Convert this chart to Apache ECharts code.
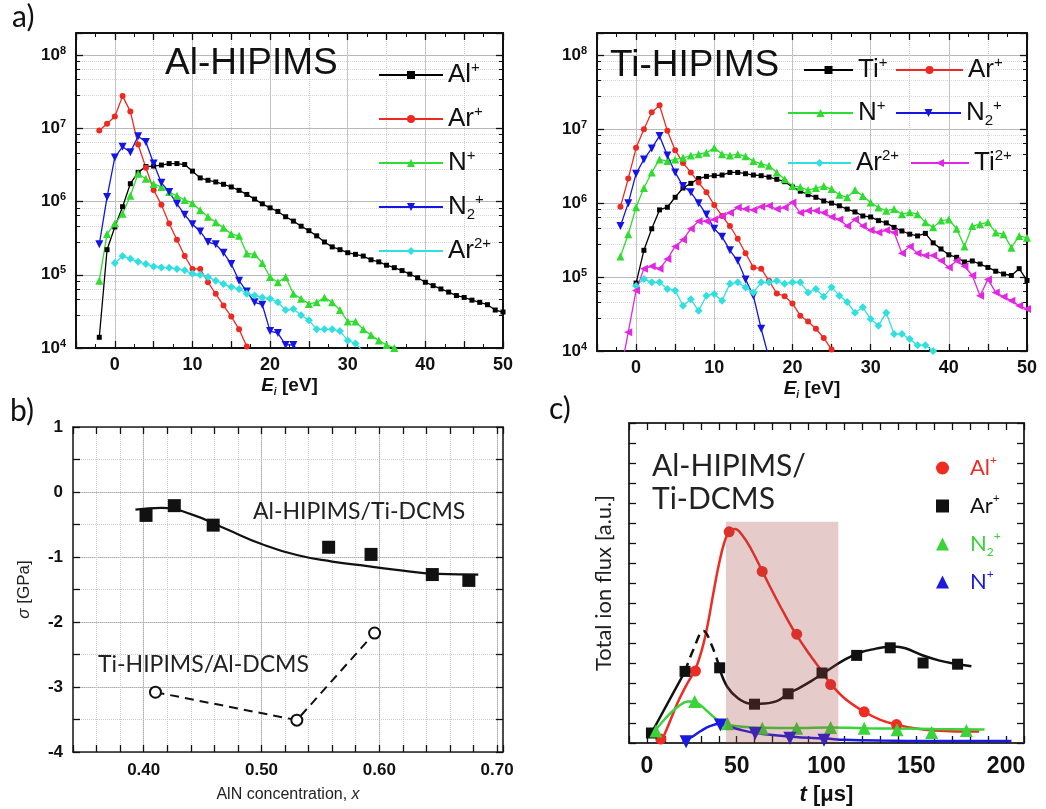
<!DOCTYPE html>
<html><head><meta charset="utf-8">
<script src="https://cdn.jsdelivr.net/npm/echarts@6/dist/echarts.min.js"></script>
<style>html,body{margin:0;padding:0;background:#fff}#c{width:1046px;height:809px}</style>
</head><body><div id="c"></div><script>
// ---------- DATA ----------
const energyL = [-2,-1,0,1,2,3,4,5,6,7,8,9,10,11,12,13,14,15,16,17,18,19,20,21,22,23,24,25,26,27,28,29,30,31,32,33,34,35,36,37,38,39,40,41,42,43,44,45,46,47,48,49,50];
const alPlusL = [1.4e4,2.2e5,4.5e5,8.5e5,1.75e6,2.5e6,3.0e6,3.05e6,3.15e6,3.3e6,3.3e6,3.2e6,2.6e6,2.1e6,1.95e6,1.85e6,1.72e6,1.58e6,1.42e6,1.25e6,1.08e6,9.3e5,8.2e5,7.3e5,6.2e5,5.4e5,4.6e5,4.0e5,3.4e5,2.8e5,2.4e5,2.2e5,2.0e5,1.9e5,1.8e5,1.6e5,1.5e5,1.35e5,1.25e5,1.14e5,1.02e5,9.1e4,7.9e4,7.1e4,6.4e4,5.8e4,5.2e4,4.9e4,4.5e4,4.2e4,3.9e4,3.3e4,3.1e4];
const arPlusL = [9.3e6,1.15e7,1.45e7,2.75e7,1.7e7,6.0e6,2.9e6,1.44e6,9e5,5e5,3e5,1.8e5,1.2e5,1.2e5,7.9e4,5.5e4,3.8e4,2.7e4,1.8e4,1.05e4,7e3];
const nPlusL = [8.3e4,3.6e5,5e5,6.8e5,1.2e6,2.4e6,2.05e6,1.74e6,1.58e6,1.35e6,1.2e6,1.05e6,9.5e5,7.6e5,6.2e5,5.2e5,4.4e5,3.6e5,3.4e5,1.95e5,1.9e5,1.45e5,9.3e4,7.9e4,9.3e4,5.5e4,4.7e4,4e4,4.2e4,4.9e4,4.2e4,3.3e4,2.3e4,2.3e4,1.8e4,1.5e4,1.27e4,1.1e4,1e4,9e3];
const n2PlusL = [2.6e5,1.15e6,4e6,5.6e6,4.7e6,7.8e6,6.5e6,3.3e6,1.8e6,1.35e6,9.3e5,6.6e5,4.9e5,3.9e5,2.8e5,2.6e5,2e5,1.4e5,8.3e4,5.9e4,4.2e4,3.9e4,1.7e4,1.6e4,1.1e4,1.1e4,8e3];
const ar2PlusL = [null,null,1.45e5,1.8e5,1.65e5,1.5e5,1.4e5,1.3e5,1.26e5,1.25e5,1.2e5,1.15e5,1.03e5,1e5,9.3e4,8.3e4,7.5e4,6.8e4,6.4e4,5.5e4,5.2e4,4.9e4,4.7e4,4.2e4,3.3e4,3.4e4,2.8e4,2.4e4,1.8e4,1.8e4,1.8e4,1.7e4,1.27e4,1.15e4,9e3];

const energyR = [-2,-1,0,1,2,3,4,5,6,7,8,9,10,11,12,13,14,15,16,17,18,19,20,21,22,23,24,25,26,27,28,29,30,31,32,33,34,35,36,37,38,39,40,41,42,43,44,45,46,47,48,49,50];
const tiPlusR = [null,null,8.3e4,2.3e5,4.5e5,8.1e5,8.8e5,1.2e6,1.6e6,1.85e6,2.15e6,2.3e6,2.35e6,2.4e6,2.6e6,2.6e6,2.5e6,2.4e6,2.35e6,2.25e6,2.1e6,1.95e6,1.65e6,1.45e6,1.3e6,1.2e6,1.07e6,1.0e6,9.2e5,8.3e5,7.6e5,6.7e5,6.5e5,5.8e5,5.4e5,4.7e5,4.2e5,3.8e5,3.6e5,3.9e5,2.9e5,2.4e5,2e5,1.85e5,1.6e5,1.65e5,1.5e5,1.35e5,1.2e5,1.1e5,1.05e5,1.3e5,9e4];
const arPlusR = [8.9e5,2.15e6,5.6e6,1e7,1.7e7,2.1e7,9.5e6,5.2e6,3.5e6,2.6e6,1.9e6,1.4e6,9.4e5,6.7e5,4.9e5,3.3e5,2.1e5,1.35e5,1.3e5,8.9e4,6e4,5.5e4,4.4e4,3e4,2.5e4,2e4,1.5e4,1.05e4,8e3];
const nPlusR = [1.9e5,3.8e5,8.8e5,1.6e6,2.6e6,3.9e6,3.7e6,3.9e6,4.1e6,4.4e6,4.6e6,4.8e6,5.6e6,4.6e6,4.4e6,4.6e6,4.3e6,3.7e6,3.4e6,3.2e6,2.6e6,2.1e6,1.7e6,1.65e6,1.5e6,1.6e6,1.7e6,1.55e6,1.3e6,1.2e6,1.5e6,1.25e6,1.02e6,8.7e5,7.9e5,8.3e5,7.1e5,7.5e5,7.1e5,5.5e5,4.7e5,5.8e5,6e5,4.5e5,2.6e5,4.9e5,5.2e5,5.5e5,4e5,3.8e5,2.5e5,3.6e5,3.4e5];
const n2PlusR = [4.9e5,1e6,2.5e6,3.9e6,5.5e6,8.1e6,4.4e6,2.6e6,1.7e6,1.4e6,1e6,7e5,4.5e5,3.5e5,2.3e5,1.66e5,9.3e4,5.6e4,2e4,8e3];
const ar2PlusR = [null,null,7.6e4,9.4e4,8.5e4,8.5e4,6.9e4,6.6e4,4.1e4,5e4,3.5e4,5.6e4,5.9e4,4.8e4,8.1e4,8.5e4,7.2e4,6.2e4,8.5e4,8.5e4,8.9e4,8.1e4,8.5e4,8.5e4,6.2e4,6.9e4,5.4e4,7.3e4,5.6e4,4.6e4,3.3e4,3.9e4,2.7e4,2.2e4,3.3e4,1.7e4,1.7e4,1.45e4,1.2e4,1.2e4,1e4,8e3];
const ti2PlusR = [5e3,1.8e4,6.6e4,1.3e5,1.4e5,1.3e5,1.75e5,2.6e5,3.2e5,4.5e5,5.7e5,5.7e5,6e5,6.7e5,7.4e5,8.7e5,8.3e5,8.1e5,8.9e5,9.2e5,8.3e5,8.7e5,1.02e6,7.4e5,7.9e5,7.9e5,7.4e5,6.5e5,6e5,4.9e5,6e5,4.9e5,4.3e5,4e5,4.3e5,4e5,2.1e5,2.6e5,2.1e5,1.95e5,1.95e5,1.66e5,1.35e5,1.66e5,1.4e5,1.05e5,5.6e4,9.3e4,6.2e4,5.4e4,4.8e4,4.1e4,3.7e4];

// panel b
const xAlHip = [0.402,0.426,0.459,0.557,0.593,0.645,0.676];
const sAlHip = [-0.36,-0.21,-0.51,-0.85,-0.96,-1.27,-1.36];
const xAlFit = [0.393,0.415,0.44,0.47,0.50,0.53,0.56,0.59,0.62,0.65,0.684];
const sAlFit = [-0.27,-0.245,-0.34,-0.57,-0.8,-0.97,-1.07,-1.14,-1.21,-1.26,-1.27];
const xTiHip = [0.410,0.530,0.596];
const sTiHip = [-3.08,-3.51,-2.17];

// panel c
const tAl = [7.7,27,45.8,64.2,83.4,102.3,121,139];
const fAl = [0.1,1.8,5.28,4.29,2.72,1.46,0.78,0.46];
const tAr = [2.5,21.2,40.5,59.9,78.6,97.5,116.8,135.5,153.8,173];
const fAr = [0.25,1.79,1.88,0.97,1.23,1.75,2.19,2.38,2.0,1.97];
const tN2 = [5,26.6,44.9,64.2,83.4,102.3,121,139.3,158.6,177.9];
const fN2 = [0.3,1.04,0.48,0.37,0.37,0.39,0.37,0.33,0.26,0.31];
const tN = [21.8,40.9,60.3,79.6,98.6];
const fN = [0.03,0.45,0.24,0.12,0.07];
const tFitAl = [7.7,12,17,22,27,31,34,37,40,43,46,49,53,58,64.5,70,76,83,90,96,102,110,121,130,139,150,160,172,185];
const fFitAl = [0,0.45,1.0,1.45,1.85,2.4,3.0,3.75,4.45,5.0,5.3,5.35,5.2,4.85,4.27,3.78,3.27,2.72,2.25,1.88,1.5,1.12,0.78,0.58,0.46,0.36,0.31,0.29,0.29];
const tFitAr1 = [2.5,21.2];
const fFitAr1 = [0.25,1.79];
const tFitAr2 = [21.2,26,31.5,36,40.5];
const fFitAr2 = [1.79,2.35,2.8,2.45,1.88];
const tFitAr3 = [40.5,44.8,50.7,57,63,71.9,78.6,85,91.2,98.8,110.4,120,125.8,131,137,144,153,163,172,180.7];
const fFitAr3 = [1.85,1.4,1.12,0.99,0.98,1.04,1.23,1.38,1.54,1.76,2.09,2.28,2.34,2.39,2.41,2.37,2.2,2.06,1.98,1.92];
const tFitN2 = [3,10,17,23,27,33,38,43,50,64,84,102,121,140,160,188];
const fFitN2 = [0.22,0.6,0.9,1.04,1.02,0.82,0.62,0.49,0.42,0.38,0.375,0.39,0.37,0.36,0.35,0.34];
const tFitN = [20,25,30,35,40.5,45,52,60,70,78,90,100,110,130,160,203];
const fFitN = [0.03,0.15,0.3,0.42,0.48,0.42,0.33,0.25,0.2,0.17,0.13,0.11,0.08,0.06,0.05,0.05];
const shadeT = [44,106.6];
const shadeTop = [5.53,5.53];

// ---------- STYLE ----------
const FA = '"Liberation Sans", Arial, sans-serif';
const FC = 'Lato, "Open Sans", sans-serif';
const T = 'rgba(0,0,0,0)';
const COL = {k:'#000000', r:'#ec2a22', g:'#2fdc2f', b:'#1414e4', c:'#30e0e0', m:'#e226e2'};
const CC = {r:'#ee2c24', k:'#111111', g:'#38d43a', b:'#1a1ae0'};

function pairs(xs, ys){ const o=[]; for(let i=0;i<xs.length;i++){ if(ys[i]!=null && xs[i]!=null) o.push([xs[i], ys[i]]); } return o; }

function ax(extra){
  return Object.assign({
    axisLine:{show:true,onZero:false,lineStyle:{color:'#111',width:2}},
    axisTick:{show:true,inside:true,length:7,lineStyle:{color:'#111',width:1.3}},
    splitLine:{show:false},
    axisLabel:{show:false},
    nameMoveOverlap:false
  }, extra);
}
function logLabel(v){ const l=Math.log10(v); const e=Math.round(l); if(Math.abs(l-e)>1e-6) return ''; return '{b|10}{e|'+e+'}'; }
const logRich = {b:{fontFamily:FA,fontWeight:'bold',fontSize:17,color:'#111',lineHeight:20}, e:{fontFamily:FA,fontWeight:'bold',fontSize:11,color:'#111',verticalAlign:'top',lineHeight:10}};
const eiName = {rich:{i:{fontFamily:FA,fontWeight:'bold',fontStyle:'italic',fontSize:19,color:'#111',lineHeight:22}, s:{fontFamily:FA,fontWeight:'bold',fontStyle:'italic',fontSize:10,color:'#111',verticalAlign:'bottom',lineHeight:10}, b:{fontFamily:FA,fontWeight:'bold',fontSize:19,color:'#111',lineHeight:22}}};

function energyAxes(gi){
  return [
    ax({type:'value',gridIndex:gi,position:'bottom',min:-5,max:50,interval:5,
      axisLabel:{show:true,formatter:v=>(v%10===0?String(v):''),fontFamily:FA,fontWeight:'bold',fontSize:18,color:'#111',margin:8},
      minorTick:{show:true,splitNumber:2,length:4,lineStyle:{color:'#111'}},
      splitLine:{show:true,lineStyle:{color:[T,'#b8b8b8'],width:1}},
      name:'{i|E}{s|i}{b| [eV]}',nameLocation:'middle',nameGap:27,nameTextStyle:eiName}),
    ax({type:'value',gridIndex:gi,position:'top',min:-5,max:50,interval:5,
      minorTick:{show:true,splitNumber:2,length:4,lineStyle:{color:'#111'}},
      splitLine:{show:true,lineStyle:{color:'#cfcfcf',type:'dotted',width:1}}})
  ];
}
function logAxes(gi){
  return [
    ax({type:'log',logBase:10,gridIndex:gi,position:'left',min:1e4,max:2e8,
      axisLabel:{show:true,formatter:logLabel,margin:10,rich:logRich},
      splitLine:{show:true,lineStyle:{color:'#b8b8b8',width:1}},
      minorTick:{show:true,splitNumber:5,length:4,lineStyle:{color:'#111'}},
      minorSplitLine:{show:true,lineStyle:{color:'#d6d6d6',type:'dotted',width:1}}}),
    ax({type:'log',logBase:10,gridIndex:gi,position:'right',min:1e4,max:2e8,
      minorTick:{show:true,splitNumber:5,length:4,lineStyle:{color:'#111'}}})
  ];
}

const supRichA = {
  n:{fontFamily:FA,fontSize:26,lineHeight:30},
  sup:{fontFamily:FA,fontSize:15,lineHeight:14,verticalAlign:'top'},
  sub:{fontFamily:FA,fontSize:15,lineHeight:14,verticalAlign:'bottom'}
};
const supRichC = {
  sp:{width:16},
  n:{fontFamily:FC,fontSize:22,lineHeight:28},
  sup:{fontFamily:FC,fontSize:12,lineHeight:12,verticalAlign:'top'},
  sub:{fontFamily:FC,fontSize:12,lineHeight:12,verticalAlign:'bottom'}
};
const legendText = {
  L_Al:'{n|Al}{sup|+}', L_Ar:'{n|Ar}{sup|+}', L_N:'{n|N}{sup|+}', L_N2:'{n|N}{sub|2}{sup|+}', L_Ar2:'{n|Ar}{sup|2+}',
  R_Ti:'{n|Ti}{sup|+}', R_Ar:'{n|Ar}{sup|+}', R_N:'{n|N}{sup|+}', R_N2:'{n|N}{sub|2}{sup|+}', R_Ar2:'{n|Ar}{sup|2+}', R_Ti2:'{n|Ti}{sup|2+}',
  C_Al:'{sp|}{n|Al}{sup|+}', C_Ar:'{sp|}{n|Ar}{sup|+}', C_N2:'{sp|}{n|N}{sub|2}{sup|+}', C_N:'{sp|}{n|N}{sup|+}'
};
function legA(names, left, top, w){
  return {orient:'vertical',left:left,top:top,itemWidth:w,itemHeight:10,itemGap:14,selectedMode:false,
    data:names,formatter:n=>legendText[n],textStyle:{color:'#111',fontFamily:FA,fontSize:26,lineHeight:30,rich:supRichA}};
}

function ion(name, xs, ys, color, symbol, size, rot, gi){
  return {type:'line',name:name,xAxisIndex:gi*2,yAxisIndex:gi*2,data:pairs(xs,ys),symbol:symbol,symbolSize:size,symbolRotate:rot||0,
    lineStyle:{color:color,width:1.3},itemStyle:{color:color},emphasis:{disabled:true},z:3};
}
function fit(name, xs, ys, color, type, width){
  return {type:'line',name:name,xAxisIndex:6,yAxisIndex:6,data:pairs(xs,ys),symbol:'none',smooth:0.4,
    lineStyle:{color:color,width:width||2.5,type:type||'solid'},emphasis:{disabled:true},z:3};
}
function pts(name, xs, ys, color, symbol, size, rot){
  return {type:'scatter',name:name,xAxisIndex:6,yAxisIndex:6,data:pairs(xs,ys),symbol:symbol,symbolSize:size,symbolRotate:rot||0,
    itemStyle:{color:color,opacity:1},emphasis:{disabled:true},z:4};
}

const option = {
  animation:false,
  backgroundColor:'#ffffff',
  grid:[
    {left:76,top:33,width:427,height:315,outerBoundsMode:'none'},
    {left:597,top:33,width:430,height:318,outerBoundsMode:'none'},
    {left:73,top:427,width:430,height:325,outerBoundsMode:'none'},
    {left:629,top:423,width:395,height:320,outerBoundsMode:'none'}
  ],
  xAxis:[
    ...energyAxes(0),
    ...energyAxes(1),
    ax({type:'value',gridIndex:2,position:'bottom',min:0.34,max:0.705,interval:0.02,
      axisLabel:{show:true,margin:10,fontFamily:FA,fontWeight:'bold',fontSize:17,color:'#111',
        formatter:v=>{const r=Math.round(v*10)/10; return (Math.abs(v-r)<1e-6 && r>=0.4)? r.toFixed(2):'';}},
      axisLine:{show:true,onZero:false,lineStyle:{color:'#222',width:1.6}},
      splitLine:{show:true,lineStyle:{color:[T,T,T,'#b0b0b0',T],width:1}},
      name:'{r|AlN concentration, }{i|x}',nameLocation:'middle',nameGap:35,
      nameTextStyle:{rich:{r:{fontFamily:FA,fontSize:16,color:'#222'},i:{fontFamily:FA,fontSize:16,fontStyle:'italic',color:'#222'}}}}),
    ax({type:'value',gridIndex:2,position:'top',min:0.34,max:0.705,interval:0.02,
      axisLine:{show:true,onZero:false,lineStyle:{color:'#222',width:1.6}},
      splitLine:{show:true,lineStyle:{color:'#cdcdcd',type:'dotted',width:1}}}),
    ax({type:'value',gridIndex:3,position:'bottom',min:-10,max:210,interval:10,
      axisLabel:{show:true,margin:12,fontFamily:FA,fontWeight:'bold',fontSize:23,color:'#111',
        formatter:v=>((v%50===0 && v>=0 && v<=200)?String(v):'')},
      axisLine:{show:true,onZero:false,lineStyle:{color:'#333',width:2}},
      name:'{i|t}{b| [\u03bcs]}',nameLocation:'middle',nameGap:41,
      nameTextStyle:{rich:{i:{fontFamily:FA,fontWeight:'bold',fontStyle:'italic',fontSize:22,color:'#111'},b:{fontFamily:FA,fontWeight:'bold',fontSize:22,color:'#111'}}}}),
    ax({type:'value',gridIndex:3,position:'top',min:-10,max:210,interval:10,
      axisLine:{show:true,onZero:false,lineStyle:{color:'#333',width:2}}})
  ],
  yAxis:[
    ...logAxes(0),
    ...logAxes(1),
    ax({type:'value',gridIndex:2,position:'left',min:-4,max:1,interval:0.5,
      axisLabel:{show:true,margin:10,fontFamily:FA,fontWeight:'bold',fontSize:17,color:'#111',
        formatter:v=>(Math.abs(v-Math.round(v))<1e-6?String(Math.round(v)):'')},
      axisLine:{show:true,onZero:false,lineStyle:{color:'#222',width:1.6}},
      splitLine:{show:true,lineStyle:{color:['#b0b0b0',T],width:1}},
      name:'{i|\u03c3}{r| [GPa]}',nameLocation:'middle',nameGap:40,
      nameTextStyle:{rich:{r:{fontFamily:FA,fontSize:17,color:'#222'},i:{fontFamily:FA,fontSize:17,fontStyle:'italic',color:'#222'}}}}),
    ax({type:'value',gridIndex:2,position:'right',min:-4,max:1,interval:0.5,
      axisLine:{show:true,onZero:false,lineStyle:{color:'#222',width:1.6}},
      splitLine:{show:true,lineStyle:{color:'#cdcdcd',type:'dotted',width:1}}}),
    ax({type:'value',gridIndex:3,position:'left',min:0,max:8,interval:0.5,
      axisLine:{show:true,onZero:false,lineStyle:{color:'#333',width:2}},
      name:'Total ion flux [a.u.]',nameLocation:'middle',nameGap:14,
      nameTextStyle:{fontFamily:FC,fontSize:22,color:'#222'}}),
    ax({type:'value',gridIndex:3,position:'right',min:0,max:8,interval:0.5,
      axisLine:{show:true,onZero:false,lineStyle:{color:'#333',width:2}}})
  ],
  legend:[
    legA(['L_Al','L_Ar','L_N','L_N2','L_Ar2'],373,55,64),
    legA(['R_Ti'],798,50,49),
    legA(['R_Ar'],890,50,67),
    legA(['R_N'],782,93,65),
    legA(['R_N2'],890,93,65),
    legA(['R_Ar2'],782,143,63),
    legA(['R_Ti2'],905,143,58),
    {orient:'vertical',left:931,top:449,itemWidth:13,itemHeight:13,itemGap:10,selectedMode:false,
      data:[{name:'C_Al',textStyle:{color:CC.r}},{name:'C_Ar',textStyle:{color:CC.k}},{name:'C_N2',textStyle:{color:CC.g}},{name:'C_N',textStyle:{color:CC.b}}],
      formatter:n=>legendText[n],textStyle:{fontFamily:FC,fontSize:22,lineHeight:28,rich:supRichC}}
  ],
  graphic:[
    {type:'text',left:12,top:2,style:{text:'a)',font:'30px '+FC,fill:'#111'}},
    {type:'text',left:10,top:396,style:{text:'b)',font:'30px '+FC,fill:'#111'}},
    {type:'text',left:549,top:394,style:{text:'c)',font:'30px '+FC,fill:'#111'}},
    {type:'text',left:165,top:45,z:10,style:{text:'Al-HIPIMS',font:'37px '+FA,fill:'#111'}},
    {type:'text',left:610,top:47,z:10,style:{text:'Ti-HIPIMS',font:'37px '+FA,fill:'#111'}},
    {type:'text',left:253,top:500,z:10,style:{text:'Al-HIPIMS/Ti-DCMS',font:'23px '+FC,fill:'#222'}},
    {type:'text',left:98,top:653,z:10,style:{text:'Ti-HIPIMS/Al-DCMS',font:'23px '+FC,fill:'#222'}},
    {type:'text',left:652,top:450,z:10,style:{text:'Al-HIPIMS/\nTi-DCMS',font:'30px '+FC,fill:'#222',lineHeight:33}}
  ],
  series:[
    ion('L_Al',energyL,alPlusL,COL.k,'rect',5,0,0),
    ion('L_Ar',energyL,arPlusL,COL.r,'circle',6,0,0),
    ion('L_N',energyL,nPlusL,COL.g,'triangle',8,0,0),
    ion('L_N2',energyL,n2PlusL,COL.b,'triangle',8,180,0),
    ion('L_Ar2',energyL,ar2PlusL,COL.c,'diamond',8,0,0),
    ion('R_Ti',energyR,tiPlusR,COL.k,'rect',5,0,1),
    ion('R_Ar',energyR,arPlusR,COL.r,'circle',6,0,1),
    ion('R_N',energyR,nPlusR,COL.g,'triangle',8,0,1),
    ion('R_N2',energyR,n2PlusR,COL.b,'triangle',8,180,1),
    ion('R_Ar2',energyR,ar2PlusR,COL.c,'diamond',8,0,1),
    ion('R_Ti2',energyR,ti2PlusR,COL.m,'triangle',8,90,1),
    {type:'line',name:'B_fit',xAxisIndex:4,yAxisIndex:4,data:pairs(xAlFit,sAlFit),symbol:'none',smooth:0.5,
      lineStyle:{color:'#111',width:2.2},emphasis:{disabled:true},z:3},
    {type:'scatter',name:'B_AlHip',xAxisIndex:4,yAxisIndex:4,data:pairs(xAlHip,sAlHip),symbol:'rect',symbolSize:13,
      itemStyle:{color:'#111',opacity:1},emphasis:{disabled:true},z:4},
    {type:'line',name:'B_TiHip',xAxisIndex:4,yAxisIndex:4,data:pairs(xTiHip,sTiHip),symbol:'emptyCircle',symbolSize:11,
      lineStyle:{color:'#111',width:2,type:[9,6]},itemStyle:{color:'#111',borderWidth:1.5},emphasis:{disabled:true},z:4},
    fit('C_fitAl',tFitAl,fFitAl,CC.r),
    fit('C_fitAr1',tFitAr1,fFitAr1,CC.k),
    fit('C_fitAr2',tFitAr2,fFitAr2,CC.k,[9,6]),
    fit('C_fitAr3',tFitAr3,fFitAr3,CC.k),
    fit('C_fitN2',tFitN2,fFitN2,CC.g),
    fit('C_fitN',tFitN,fFitN,CC.b),
    pts('C_Al',tAl,fAl,CC.r,'circle',11),
    pts('C_Ar',tAr,fAr,CC.k,'rect',11),
    pts('C_N2',tN2,fN2,CC.g,'triangle',13),
    pts('C_N',tN,fN,CC.b,'triangle',13,180),
    {type:'line',name:'C_shade',xAxisIndex:6,yAxisIndex:6,data:pairs(shadeT,shadeTop),symbol:'none',
      lineStyle:{width:0,color:T},areaStyle:{color:'rgba(167,67,67,0.4)',origin:'start'},emphasis:{disabled:true},z:10,zlevel:1}
  ]
};
const chart = echarts.init(document.getElementById('c'), null, {renderer:'canvas'});
chart.setOption(option);
</script></body></html>
